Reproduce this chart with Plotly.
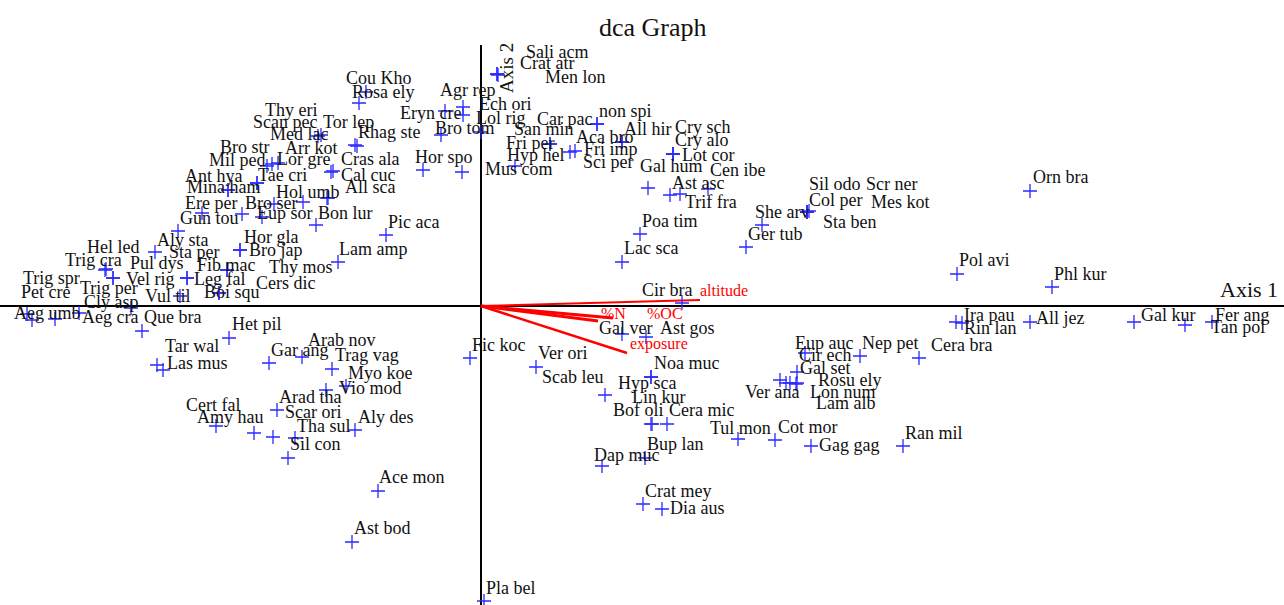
import plotly.graph_objects as go

# ---------------- data (DCA species scores, axis units) ----------------
species = [
    "Cou Kho", "Rosa ely", "Agr rep", "Ech ori", "Eryn cre", "Lol rig", "Bro tom", "Thy eri", "Scan pec", "Tor lep",
    "Med lac", "Rhag ste", "Bro str", "Arr kot", "Mil ped", "Lor gre", "Cras ala", "Hor spo", "Ant hya", "Tae cri",
    "Cal cuc", "Mina ham", "All sca", "Hol umb", "Ere per", "Bro ser", "Gun tou", "Eup sor", "Bon lur", "Pic aca",
    "Aly sta", "Hor gla", "Bro jap", "Lam amp", "Hel led", "Sta per", "Trig cra", "Pul dys", "Fib mac", "Thy mos",
    "Trig spr", "Vel rig", "Leg fal", "Cers dic", "Pet cre", "Trig per", "Vul til", "Boi squ", "Cly asp", "Aeg umb",
    "Aeg cra", "Que bra",
    "Sali acm", "Crat atr", "Men lon", "Car pac", "non spi", "San min", "All hir", "Cry sch", "Aca bro", "Cry alo",
    "Fri per", "Fri imp", "Hyp hel", "Lot cor", "Sci per", "Gal hum", "Mus com", "Cen ibe", "Ast asc", "Trif fra",
    "Poa tim", "Lac sca", "Cir bra", "Sil odo", "Scr ner", "Col per", "Mes kot", "She arv", "Sta ben", "Ger tub",
    "Pol avi", "Orn bra", "Phl kur",
    "Ira pau", "Rin lan", "All jez", "Gal kur", "Fer ang", "Tan pol", "Cera bra", "Eup auc", "Nep pet", "Cir ech",
    "Gal set", "Rosu ely", "Ver ana", "Lon num", "Lam alb", "Cot mor", "Gag gag", "Ran mil",
    "Fic koc", "Gal ver", "Ast gos", "Ver ori", "Noa muc", "Scab leu", "Hyp sca", "Lin kur", "Bof oli", "Cera mic",
    "Tul mon", "Bup lan", "Dap muc", "Crat mey", "Dia aus", "Pla bel",
    "Het pil", "Tar wal", "Las mus", "Arab nov", "Gar ang", "Trag vag", "Myo koe", "Vio mod", "Arad tha", "Cert fal",
    "Amy hau", "Scar ori", "Aly des", "Tha sul", "Sil con", "Ace mon", "Ast bod",
]

axis1_score = [
    -1.15, -1.22, -0.18, -0.18, -0.36, 0.00, -0.40, -1.60, -1.63, -1.26,
    -2.09, -1.24, -2.14, -2.03, -2.24, -1.50, -1.48, -0.58, -2.53, -2.24,
    -1.54, -2.53, -1.53, -1.78, -2.39, -2.07, -2.79, -2.19, -1.65, -0.95,
    -3.03, -2.41, -2.41, -1.43, -3.76, -3.26, -3.75, -3.68, -2.54, -2.54,
    -4.26, -2.94, -2.94, -2.62, -4.49, -3.68, -3.01, -2.62, -3.50, -4.54,
    -4.02, -3.39,
    0.16, 0.16, 0.17, 1.16, 1.16, 0.69, 1.41, 1.92, 1.41, 1.92,
    0.69, 0.94, 0.34, 1.92, 0.89, 1.67, -0.19, 2.27, 1.89, 1.99,
    1.59, 1.41, 2.01, 3.26, 3.26, 3.26, 3.26, 2.81, 3.28, 2.65,
    4.76, 5.49, 5.71,
    4.75, 4.81, 5.49, 6.53, 7.31, 7.04, 4.38, 3.24, 3.79, 3.16,
    3.16, 3.05, 2.99, 3.15, 3.09, 2.94, 3.30, 4.22,
    -0.11, 1.41, 1.65, 0.55, 1.70, 1.24, 1.70, 1.71, 1.70, 1.86,
    2.57, 1.64, 1.21, 1.62, 1.81, 0.03,
    -2.52, -3.24, -3.18, -1.79, -2.12, -1.49, -1.35, -1.55, -2.04, -2.65,
    -2.27, -2.08, -1.26, -1.86, -1.93, -1.03, -1.29,
]

axis2_score = [
    2.14, 2.03, 1.99, 1.91, 1.95, 1.74, 1.71, 1.71, 1.70, 1.61,
    1.42, 1.60, 1.40, 1.43, 1.23, 1.34, 1.35, 1.36, 1.16, 1.23,
    1.08, 1.16, 1.08, 1.04, 0.92, 1.02, 0.93, 0.89, 0.81, 0.71,
    0.75, 0.56, 0.56, 0.44, 0.36, 0.54, 0.37, 0.28, 0.36, 0.36,
    -0.13, 0.28, 0.28, 0.13, -0.14, 0.28, 0.10, 0.13, -0.02, -0.08,
    -0.07, -0.25,
    2.32, 2.32, 2.31, 1.82, 1.82, 1.62, 1.64, 1.52, 1.64, 1.52,
    1.62, 1.55, 1.40, 1.52, 1.54, 1.18, 1.34, 1.17, 1.11, 1.12,
    0.72, 0.44, 0.03, 0.94, 0.94, 0.94, 0.94, 0.81, 0.95, 0.59,
    0.32, 1.15, 0.19,
    -0.16, -0.17, -0.16, -0.16, -0.16, -0.19, -0.52, -0.47, -0.50, -0.66,
    -0.77, -0.77, -0.74, -0.78, -0.77, -1.34, -1.40, -1.40,
    -0.52, -0.28, -0.31, -0.61, -0.71, -0.89, -0.71, -1.18, -1.18, -1.18,
    -1.33, -1.52, -1.60, -1.98, -2.03, -2.95,
    -0.32, -0.59, -0.64, -0.51, -0.57, -0.63, -0.80, -0.84, -1.04, -1.20,
    -1.27, -1.31, -1.24, -1.32, -1.52, -1.85, -2.36,
]

# label anchor positions (left edge, vertical middle), axis units
label_axis1 = [
    -1.37, -1.31, -0.43, -0.04, -0.83, -0.07, -0.48, -2.18, -2.30, -1.60,
    -2.13, -1.25, -2.63, -1.98, -2.74, -2.06, -1.42, -0.68, -2.98, -2.25,
    -1.42, -2.96, -1.38, -2.07, -2.98, -2.38, -3.03, -2.26, -1.65, -0.95,
    -3.26, -2.39, -2.34, -1.44, -3.96, -3.14, -4.18, -3.53, -2.86, -2.14,
    -4.60, -3.57, -2.89, -2.27, -4.62, -4.03, -3.38, -2.79, -3.99, -4.69,
    -4.01, -3.39,
    0.43, 0.37, 0.62, 0.54, 1.16, 0.31, 1.41, 1.92, 0.93, 1.92,
    0.23, 1.01, 0.24, 1.99, 1.00, 1.57, 0.02, 2.27, 1.89, 2.02,
    1.59, 1.41, 1.59, 3.26, 3.83, 3.26, 3.88, 2.72, 3.40, 2.65,
    4.76, 5.50, 5.71,
    4.81, 4.81, 5.53, 6.58, 7.32, 7.28, 4.48, 3.12, 3.79, 3.16,
    3.17, 3.35, 2.62, 3.27, 3.33, 2.95, 3.36, 4.22,
    -0.11, 1.16, 1.77, 0.55, 1.71, 0.59, 1.35, 1.49, 1.30, 1.86,
    2.27, 1.64, 1.11, 1.62, 1.87, 0.03,
    -2.51, -3.18, -3.16, -1.75, -2.12, -1.48, -1.35, -1.44, -2.04, -2.97,
    -2.86, -1.98, -1.25, -1.86, -1.93, -1.04, -1.29,
]

label_axis2 = [
    2.28, 2.14, 2.16, 2.02, 1.93, 1.88, 1.78, 1.96, 1.84, 1.84,
    1.72, 1.74, 1.59, 1.58, 1.46, 1.47, 1.47, 1.49, 1.30, 1.31,
    1.31, 1.19, 1.19, 1.14, 1.03, 1.03, 0.88, 0.93, 0.93, 0.84,
    0.66, 0.69, 0.56, 0.57, 0.59, 0.54, 0.46, 0.43, 0.41, 0.39,
    0.28, 0.27, 0.27, 0.23, 0.14, 0.18, 0.10, 0.14, 0.04, -0.07,
    -0.11, -0.11,
    2.54, 2.43, 2.29, 1.87, 1.95, 1.77, 1.77, 1.79, 1.69, 1.66,
    1.63, 1.57, 1.51, 1.51, 1.44, 1.40, 1.37, 1.36, 1.23, 1.04,
    0.85, 0.58, 0.16, 1.22, 1.22, 1.06, 1.04, 0.94, 0.84, 0.72,
    0.46, 1.29, 0.32,
    -0.09, -0.22, -0.12, -0.09, -0.09, -0.21, -0.39, -0.37, -0.37, -0.49,
    -0.62, -0.74, -0.86, -0.86, -0.97, -1.21, -1.39, -1.27,
    -0.39, -0.22, -0.22, -0.47, -0.57, -0.71, -0.77, -0.91, -1.04, -1.04,
    -1.22, -1.38, -1.49, -1.85, -2.02, -2.82,
    -0.18, -0.40, -0.57, -0.34, -0.44, -0.49, -0.67, -0.82, -0.91, -0.99,
    -1.11, -1.06, -1.11, -1.20, -1.38, -1.71, -2.22,
]

# environmental vectors (biplot arrows)
env_names = ["altitude", "%N", "%OC", "exposure"]
env_axis1 = [2.19, 1.17, 1.32, 1.46]
env_axis2 = [0.06, -0.15, -0.12, -0.47]
env_label_axis1 = [2.17, 1.18, 1.64, 1.47]
env_label_axis2 = [0.16, -0.07, -0.07, -0.38]
env_widths = [2, 3, 3, 2.5]

title_text = "dca Graph"
axis1_title = "Axis 1"
axis2_title = "Axis 2"

X_RANGE = [-4.81, 8.03]
Y_RANGE = [-2.99, 3.06]

SERIF = "Liberation Serif, Times New Roman, serif"

fig = go.Figure()

# axes through origin
fig.add_shape(type="line", x0=X_RANGE[0], x1=X_RANGE[1], y0=0, y1=0,
              line=dict(color="black", width=2), layer="below")
fig.add_shape(type="line", x0=0, x1=0, y0=Y_RANGE[0], y1=2.61,
              line=dict(color="black", width=2), layer="below")

# environmental vectors
for ex, ey, w in zip(env_axis1, env_axis2, env_widths):
    fig.add_trace(go.Scatter(x=[0, ex], y=[0, ey], mode="lines",
                             line=dict(color="#ff0000", width=w),
                             hoverinfo="skip", showlegend=False))

# species points
fig.add_trace(go.Scatter(
    x=axis1_score, y=axis2_score, mode="markers", text=species,
    marker=dict(symbol="cross-thin", size=10, color="#2a2aff",
                line=dict(color="#2a2aff", width=1.3)),
    showlegend=False, hoverinfo="text"))

annotations = []
for name, lx, ly in zip(species, label_axis1, label_axis2):
    annotations.append(dict(x=lx, y=ly, xref="x", yref="y", text=name, showarrow=False,
                            xanchor="left", yanchor="middle",
                            font=dict(family=SERIF, size=18, color="#111111")))
for name, lx, ly in zip(env_names, env_label_axis1, env_label_axis2):
    annotations.append(dict(x=lx, y=ly, xref="x", yref="y", text=name, showarrow=False,
                            xanchor="left", yanchor="middle",
                            font=dict(family=SERIF, size=16, color="#ff0000")))

annotations.append(dict(x=7.37, y=0.17, xref="x", yref="y", text=axis1_title, showarrow=False,
                        xanchor="left", yanchor="middle",
                        font=dict(family=SERIF, size=22, color="#111111")))
annotations.append(dict(x=0.25, y=2.38, xref="x", yref="y", text=axis2_title, showarrow=False,
                        xanchor="center", yanchor="middle", textangle=-90,
                        font=dict(family=SERIF, size=19, color="#111111")))
annotations.append(dict(x=0.5086, y=0.955, xref="paper", yref="paper", text=title_text, showarrow=False,
                        xanchor="center", yanchor="middle",
                        font=dict(family=SERIF, size=26, color="#111111")))

fig.update_layout(
    width=1284, height=605,
    margin=dict(l=0, r=0, t=0, b=0),
    paper_bgcolor="white", plot_bgcolor="white",
    xaxis=dict(range=X_RANGE, visible=False, showgrid=False, zeroline=False, fixedrange=True),
    yaxis=dict(range=Y_RANGE, visible=False, showgrid=False, zeroline=False, fixedrange=True),
    annotations=annotations,
)

fig.write_html("out.html", config={"displayModeBar": False},
               post_script="document.body.style.margin='0';document.body.style.overflow='hidden';")
